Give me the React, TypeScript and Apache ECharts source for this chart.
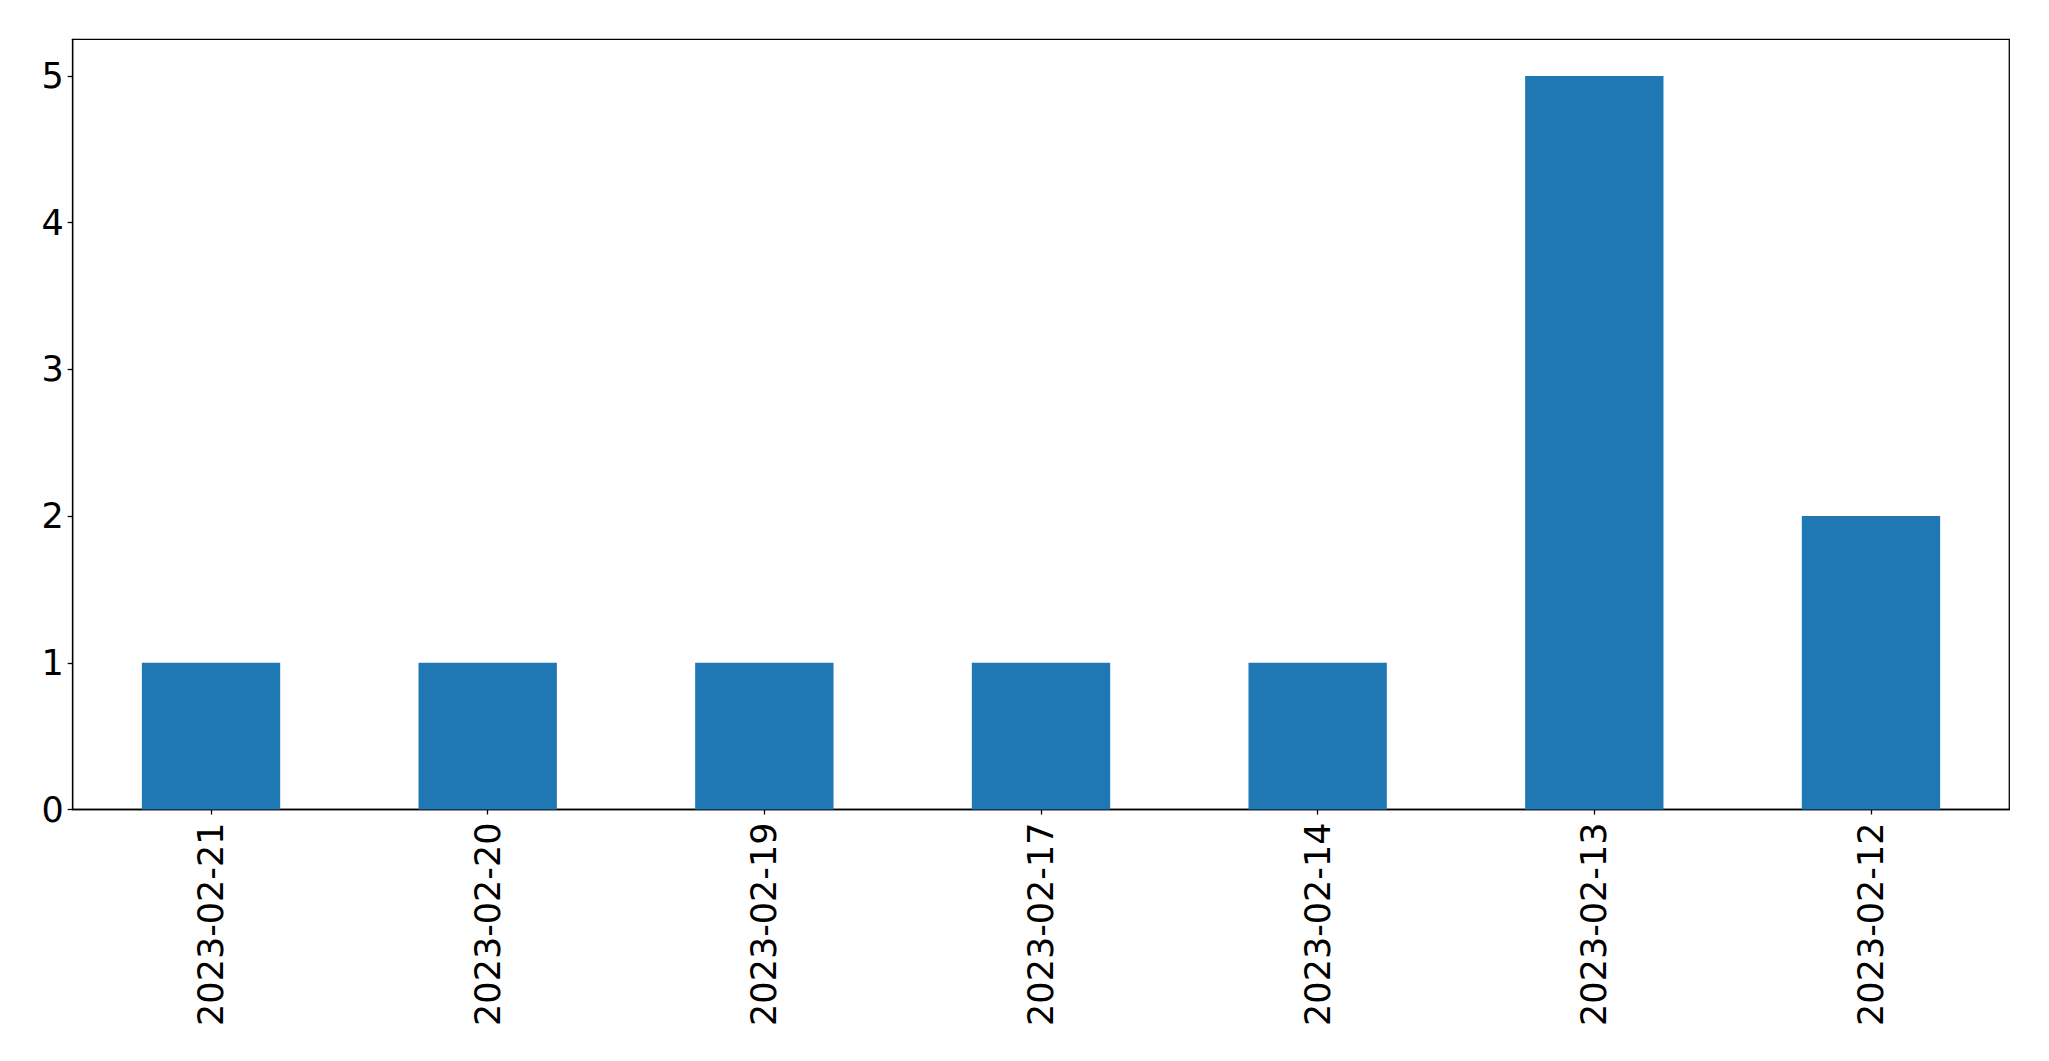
import React, { useEffect, useRef } from "react";
import * as echarts from "echarts";

const categories = [
  "2023-02-21",
  "2023-02-20",
  "2023-02-19",
  "2023-02-17",
  "2023-02-14",
  "2023-02-13",
  "2023-02-12",
];
const counts = [1, 1, 1, 1, 1, 5, 2];
const yTicks = [0, 1, 2, 3, 4, 5];

export default function App() {
  const ref = useRef<HTMLDivElement>(null);
  useEffect(() => {
    document.body.style.margin = "0";
    const chart = echarts.init(ref.current!, null, { renderer: "svg" });
    const font = "DejaVu Sans";
    chart.setOption({
      animation: false,
      backgroundColor: "#ffffff",
      grid: {
        left: 72.7,
        right: 39.7,
        top: 39.3,
        bottom: 251.5,
        show: true,
        borderColor: "#000000",
        borderWidth: 1.3,
        containLabel: false,
      },
      xAxis: {
        type: "category",
        data: categories,
        boundaryGap: true,
        axisLine: { show: true, lineStyle: { color: "#000", width: 1.3 } },
        axisTick: { show: true, alignWithLabel: true, length: 5, lineStyle: { color: "#000", width: 1.3 } },
        axisLabel: {
          rotate: 90,
          margin: 13,
          fontFamily: font,
          fontSize: 35,
          color: "#000",
          interval: 0,
        },
        splitLine: { show: false },
      },
      yAxis: {
        type: "value",
        min: 0,
        max: 5.25,
        interval: 1,
        axisLine: { show: true, lineStyle: { color: "#000", width: 1.3 } },
        axisTick: {
          show: true,
          length: 5,
          lineStyle: { color: "#000", width: 1.3 },
          customValues: yTicks,
        },
        axisLabel: {
          margin: 9,
          fontFamily: font,
          fontSize: 35,
          color: "#000",
          customValues: yTicks,
        },
        splitLine: { show: false },
      },
      series: [
        {
          type: "bar",
          data: counts,
          barWidth: "50%",
          itemStyle: { color: "#1f77b4" },
        },
      ],
    });
    return () => chart.dispose();
  }, []);
  return (
    <div
      ref={ref}
      style={{ position: "fixed", left: 0, top: 0, width: 2049, height: 1061 }}
    />
  );
}
